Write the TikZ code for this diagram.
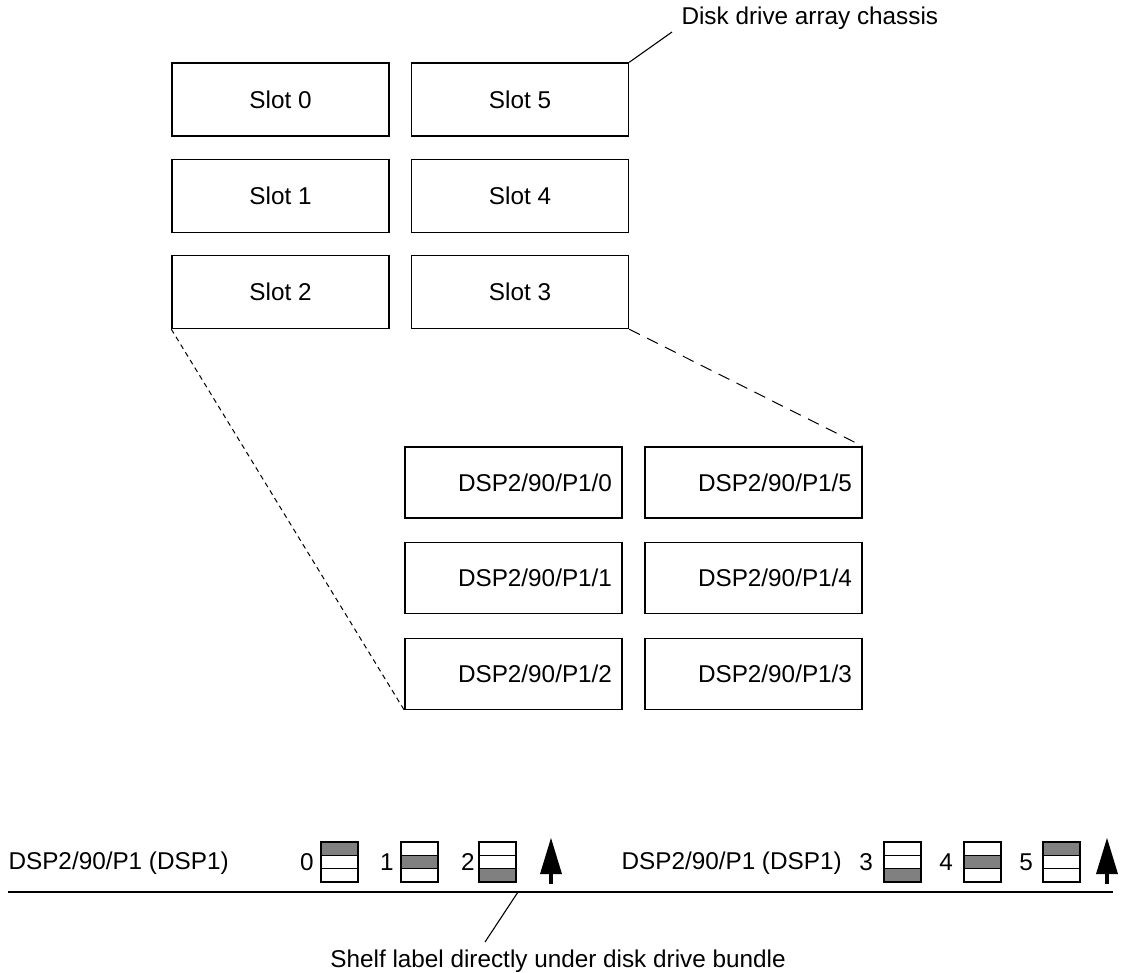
\documentclass[tikz,border=0pt]{standalone}
\usepackage{fontspec}
\setmainfont{Liberation Sans}
\definecolor{cellgray}{RGB}{128,128,128}
\begin{document}
\begin{tikzpicture}[x=1pt,y=-1pt,
  every node/.style={font=\fontsize{24.3}{28}\selectfont},
  slotbox/.style={draw,line width=1.4pt,inner sep=0pt,minimum width=217pt,minimum height=73pt},
  dspbox/.style={draw,line width=1.4pt,inner ysep=0pt,inner xsep=10pt,text width=197pt,align=right,minimum height=71pt},
  leader/.style={line width=1.1pt},
  cell/.style={draw,line width=1.4pt},
  shaded/.style={cell,fill=cellgray},
  plain/.style={cell,fill=white},
  uparrow/.style={fill=black}
]
\useasboundingbox (0,0) rectangle (1121,972);

% slot boxes
\node[slotbox] (s0) at (280.5,99.5) {Slot 0};
\node[slotbox] (s1) at (280.5,196) {Slot 1};
\node[slotbox] (s2) at (280.5,292) {Slot 2};
\node[slotbox] (s5) at (520,99.5) {Slot 5};
\node[slotbox] (s4) at (520,196) {Slot 4};
\node[slotbox] (s3) at (520,292) {Slot 3};

% DSP boxes
\node[dspbox] (d0) at (513.5,482.5) {DSP2/90/P1/0};
\node[dspbox] (d1) at (513.5,578) {DSP2/90/P1/1};
\node[dspbox] (d2) at (513.5,674) {DSP2/90/P1/2};
\node[dspbox] (d5) at (753.5,482.5) {DSP2/90/P1/5};
\node[dspbox] (d4) at (753.5,578) {DSP2/90/P1/4};
\node[dspbox] (d3) at (753.5,674) {DSP2/90/P1/3};

% dashed zoom lines
\draw[line width=1pt,dash pattern=on 5pt off 4pt] (s2.south west) -- (d2.south west);
\draw[line width=1pt,dash pattern=on 12pt off 8pt] (s3.south east) -- (d5.north east);

% chassis label
\node[anchor=west] (chassis) at (678,18) {Disk drive array chassis};
\coordinate (chl) at (672,32);
\draw[leader] (s5.north east) -- (chl);

% shelf
\coordinate (shL) at (8,892);
\coordinate (shR) at (1113,892);
\draw[line width=1.4pt] (shL) -- (shR);
\node[anchor=west] (lab1) at (5,863) {DSP2/90/P1 (DSP1)};
\node[anchor=west] (lab2) at (618,863) {DSP2/90/P1 (DSP1)};

% drive bundle icons: x-left, digit x, shaded cell index
\foreach \xl/\dx/\lbl/\sh in {321/307/0/0, 401/387/1/1, 479/468/2/2, 884/866/3/2, 964/946/4/1, 1043/1026/5/0}{
  \node (n\lbl) at (\dx,862) {\lbl};
  \foreach \k in {0,1,2}{
    \pgfmathsetmacro{\ya}{842+\k*13.33}
    \pgfmathsetmacro{\yb}{842+(\k+1)*13.33}
    \ifnum\k=\sh
      \draw[shaded] (\xl,\ya) rectangle (\xl+37,\yb);
    \else
      \draw[plain] (\xl,\ya) rectangle (\xl+37,\yb);
    \fi
  }
}

% up arrows
\foreach \ax in {551,1107}{
  \fill[uparrow] (\ax,838) -- (\ax+11,874) -- (\ax-11,874) -- cycle;
  \fill[uparrow] (\ax-1.6,873) rectangle (\ax+1.6,884);
}

% shelf label
\coordinate (sla) at (518,892);
\coordinate (slb) at (485,942);
\draw[leader] (sla) -- (slb);
\node (shelf) at (558,961) {Shelf label directly under disk drive bundle};
\end{tikzpicture}
\end{document}
